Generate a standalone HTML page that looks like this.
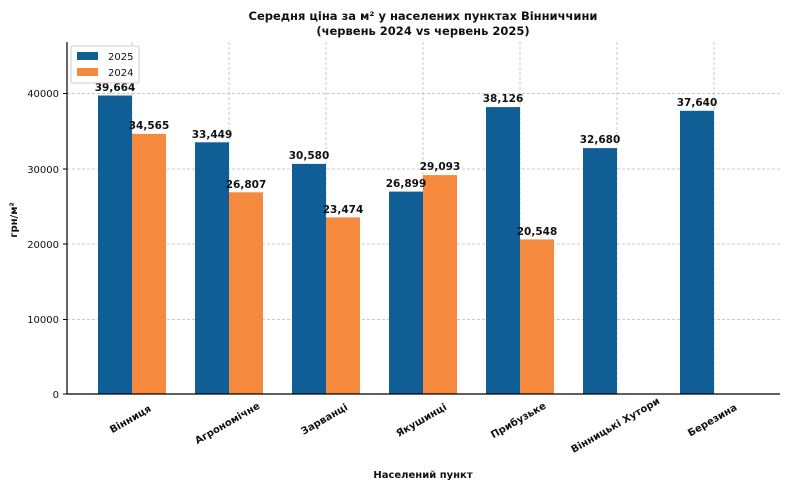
<!DOCTYPE html>
<html><head><meta charset="utf-8"><style>body{margin:0;background:#fff}svg{display:block}text{font-family:"DejaVu Sans","Liberation Sans",sans-serif;fill:#111}</style></head><body>
<svg width="790" height="489" xmlns="http://www.w3.org/2000/svg">
<text x="423" y="20" font-size="11.5" font-weight="bold" text-anchor="middle">Середня ціна за м² у населених пунктах Вінниччини</text>
<text x="423" y="35" font-size="11.5" font-weight="bold" text-anchor="middle">(червень 2024 vs червень 2025)</text>
<g stroke="#bbb" stroke-dasharray="3,2" stroke-width="0.8">
<line x1="67" x2="780" y1="319.5" y2="319.5"/><line x1="67" x2="780" y1="244" y2="244"/><line x1="67" x2="780" y1="169" y2="169"/><line x1="67" x2="780" y1="93.5" y2="93.5"/>
<line x1="132" x2="132" y1="42" y2="394"/><line x1="229" x2="229" y1="42" y2="394"/><line x1="326" x2="326" y1="42" y2="394"/><line x1="423" x2="423" y1="42" y2="394"/><line x1="520" x2="520" y1="42" y2="394"/><line x1="617" x2="617" y1="42" y2="394"/><line x1="714" x2="714" y1="42" y2="394"/>
</g>
<g fill="#0f5e96">
<rect x="98" y="95.5" width="34" height="298.5"/><rect x="195" y="142.3" width="34" height="251.7"/><rect x="292" y="163.9" width="34" height="230.1"/><rect x="389" y="191.6" width="34" height="202.4"/><rect x="486" y="107.1" width="34" height="286.9"/><rect x="583" y="148.1" width="34" height="245.9"/><rect x="680" y="110.8" width="34" height="283.2"/>
</g>
<g fill="#f58a3f">
<rect x="132" y="133.9" width="34" height="260.1"/><rect x="229" y="192.3" width="34" height="201.7"/><rect x="326" y="217.4" width="34" height="176.6"/><rect x="423" y="175.1" width="34" height="218.9"/><rect x="520" y="239.4" width="34" height="154.6"/>
</g>
<g font-size="10.5" font-weight="bold" text-anchor="middle">
<text x="115" y="91">39,664</text><text x="212" y="138">33,449</text><text x="309" y="159">30,580</text><text x="406" y="187">26,899</text><text x="503" y="102">38,126</text><text x="600" y="143">32,680</text><text x="697" y="106">37,640</text>
<text x="149" y="129">34,565</text><text x="246" y="188">26,807</text><text x="343" y="213">23,474</text><text x="440" y="170">29,093</text><text x="537" y="235">20,548</text>
</g>
<line x1="67" x2="67" y1="42" y2="394.5" stroke="#000" stroke-width="1.2"/>
<line x1="66.5" x2="780" y1="394" y2="394" stroke="#000" stroke-width="1.2"/>
<g font-size="10" text-anchor="end">
<text x="59" y="398">0</text><text x="59" y="323">10000</text><text x="59" y="248">20000</text><text x="59" y="173">30000</text><text x="59" y="97">40000</text>
</g>
<g stroke="#000"><line x1="63" x2="67" y1="394" y2="394"/><line x1="63" x2="67" y1="319.5" y2="319.5"/><line x1="63" x2="67" y1="244" y2="244"/><line x1="63" x2="67" y1="169" y2="169"/><line x1="63" x2="67" y1="93.5" y2="93.5"/></g>
<g font-size="10" font-weight="bold" text-anchor="middle">
<text transform="translate(132,422) rotate(-30)">Вінниця</text>
<text transform="translate(229,426) rotate(-30)">Агрономічне</text>
<text transform="translate(326,422) rotate(-30)">Зарванці</text>
<text transform="translate(423,423) rotate(-30)">Якушинці</text>
<text transform="translate(520,423) rotate(-30)">Прибузьке</text>
<text transform="translate(617,428) rotate(-30)">Вінницькі Хутори</text>
<text transform="translate(714,423) rotate(-30)">Березина</text>
</g>
<text x="423" y="478" font-size="10" font-weight="bold" text-anchor="middle">Населений пункт</text>
<text transform="translate(17,220) rotate(-90)" font-size="10" font-weight="bold" text-anchor="middle">грн/м²</text>
<rect x="71" y="46" width="68" height="37" fill="#fff" stroke="#ccc" rx="2"/>
<rect x="77" y="52" width="21" height="8" fill="#0f5e96"/><text x="108" y="60" font-size="10">2025</text>
<rect x="77" y="68" width="21" height="8" fill="#f58a3f"/><text x="108" y="76" font-size="10">2024</text>
</svg>
</body></html>
